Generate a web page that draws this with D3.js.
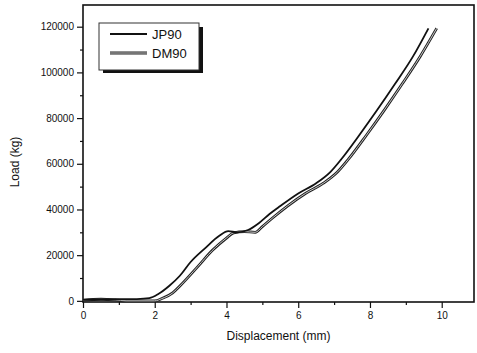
<!DOCTYPE html>
<html>
<head>
<meta charset="utf-8">
<script src="https://cdn.jsdelivr.net/npm/d3@7/dist/d3.min.js"></script>
<style>
  body { margin: 0; background: #fff; }
  svg { display: block; font-family: "Liberation Sans", Arial, sans-serif; }
</style>
</head>
<body>
<div id="chart"></div>
<script>
// displacement (mm) / load (kg)
const jp90_x = [0, 0.5, 1.0, 1.5, 1.85, 2.1, 2.4, 2.7, 3.0, 3.4, 3.8, 4.05, 4.3, 4.6, 4.9, 5.2, 5.5, 6.0, 6.5, 6.9, 7.2, 7.7, 8.2, 8.7, 9.2, 9.63];
const jp90_y = [400, 600, 700, 800, 1200, 3000, 6500, 11000, 17000, 23000, 28500, 30500, 30000, 31000, 34000, 38000, 41500, 47000, 51500, 56500, 62000, 72500, 83500, 95000, 107000, 119300];

const dm90_x = [0, 0.5, 0.9, 1.2, 2.0, 2.2, 2.5, 2.7, 3.2, 3.6, 4.0, 4.2, 4.5, 4.8, 5.0, 5.3, 5.7, 6.2, 6.7, 7.1, 7.4, 7.9, 8.4, 8.9, 9.4, 9.86];
const dm90_y = [300, 700, 400, 0, 0, 1000, 3500, 6500, 15000, 22000, 27500, 29800, 30300, 30000, 32500, 36500, 41500, 47000, 51500, 56500, 62000, 72500, 83500, 95000, 107000, 119300];

const x_ticks = [0, 2, 4, 6, 8, 10];
const y_ticks = [0, 20000, 40000, 60000, 80000, 100000, 120000];
const series_names = ["JP90", "DM90"];

let width = 477, height = 353;
let margin = {left: 83, right: 3, top: 5, bottom: 51};

let svg = d3.select("#chart").append("svg")
    .attr("width", width)
    .attr("height", height);

let x = d3.scaleLinear().domain([0, 10.9]).range([margin.left, width - margin.right]);
let y = d3.scaleLinear().domain([-500, 129500]).range([height - margin.bottom, margin.top]);

// minor ticks
let x_minor = d3.range(1, 11, 2);
let y_minor = d3.range(10000, 130000, 20000);

svg.append("g")
    .attr("transform", "translate(0," + (height - margin.bottom) + ")")
    .call(d3.axisBottom(x).tickValues(x_ticks).tickSize(6).tickPadding(4).tickFormat(d3.format("d")));
svg.append("g")
    .attr("transform", "translate(0," + (height - margin.bottom) + ")")
    .call(d3.axisBottom(x).tickValues(x_minor).tickSize(3).tickFormat(""));

svg.append("g")
    .attr("transform", "translate(" + margin.left + ",0)")
    .call(d3.axisLeft(y).tickValues(y_ticks).tickSize(6).tickPadding(3).tickFormat(d3.format("d")));
svg.append("g")
    .attr("transform", "translate(" + margin.left + ",0)")
    .call(d3.axisLeft(y).tickValues(y_minor).tickSize(3).tickFormat(""));

svg.selectAll(".tick text").attr("font-size", 10).attr("fill", "#111");
svg.selectAll(".tick line").attr("stroke", "#111").attr("stroke-width", 1.2);
svg.selectAll(".domain").remove();

// frame
svg.append("rect")
    .attr("x", margin.left)
    .attr("y", margin.top)
    .attr("width", width - margin.left - margin.right)
    .attr("height", height - margin.top - margin.bottom)
    .attr("fill", "none")
    .attr("stroke", "#111")
    .attr("stroke-width", 1.6);

let line = d3.line()
    .x(d => x(d[0]))
    .y(d => y(d[1]))
    .curve(d3.curveMonotoneX);

let jp90 = d3.zip(jp90_x, jp90_y);
let dm90 = d3.zip(dm90_x, dm90_y);

// DM90 drawn as a grey core with dark edges, like the scan
svg.append("path").datum(dm90)
    .attr("d", line).attr("fill", "none")
    .attr("stroke", "#222").attr("stroke-width", 2.8);
svg.append("path").datum(dm90)
    .attr("d", line).attr("fill", "none")
    .attr("stroke", "#c8c8c8").attr("stroke-width", 1);

svg.append("path").datum(jp90)
    .attr("d", line).attr("fill", "none")
    .attr("stroke", "#111").attr("stroke-width", 1.8);

// legend
let lg = svg.append("g");
lg.append("rect")
    .attr("x", 103).attr("y", 27).attr("width", 100).attr("height", 46)
    .attr("fill", "#111");
lg.append("rect")
    .attr("x", 99).attr("y", 23).attr("width", 100).attr("height", 47)
    .attr("fill", "#fff").attr("stroke", "#333").attr("stroke-width", 1);

lg.append("line")
    .attr("x1", 110).attr("x2", 147).attr("y1", 34).attr("y2", 34)
    .attr("stroke", "#111").attr("stroke-width", 1.8);
lg.append("line")
    .attr("x1", 110).attr("x2", 147).attr("y1", 53).attr("y2", 53)
    .attr("stroke", "#222").attr("stroke-width", 2.8);
lg.append("line")
    .attr("x1", 110).attr("x2", 147).attr("y1", 53).attr("y2", 53)
    .attr("stroke", "#c8c8c8").attr("stroke-width", 1);

lg.selectAll("text.lab")
    .data(series_names)
    .enter().append("text")
    .attr("class", "lab")
    .attr("x", 152)
    .attr("y", (d, i) => 39 + i * 19)
    .attr("font-size", 13)
    .attr("fill", "#111")
    .text(d => d);

// axis titles
svg.append("text")
    .attr("x", (margin.left + width - margin.right) / 2)
    .attr("y", 340)
    .attr("text-anchor", "middle")
    .attr("font-size", 12)
    .attr("fill", "#111")
    .text("Displacement (mm)");

svg.append("text")
    .attr("transform", "translate(19,162) rotate(-90)")
    .attr("text-anchor", "middle")
    .attr("font-size", 12)
    .attr("fill", "#111")
    .text("Load (kg)");
</script>
</body>
</html>
